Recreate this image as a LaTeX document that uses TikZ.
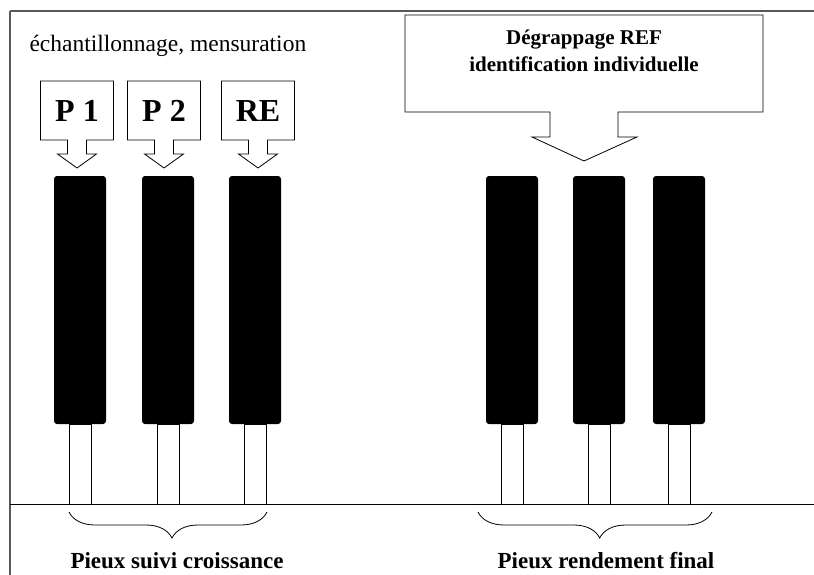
\documentclass[tikz,border=0pt]{standalone}
\usepackage{fontspec}
\setmainfont{Liberation Serif}
\usetikzlibrary{decorations.pathreplacing}

\tikzset{
  callout/.style = {draw, line width = 0.8pt, fill = white},
  pile/.style = {fill = black, rounded corners = 3pt},
  stem/.style = {draw, line width = 0.9pt, fill = white},
  bracket/.style = {draw, line width = 0.8pt, decorate,
    decoration = {brace, amplitude = 26pt, aspect = 0.48}},
  tag/.style = {font = \bfseries\fontsize{32}{36}\selectfont, anchor = base},
  caption/.style = {font = \bfseries\fontsize{23}{27}\selectfont, anchor = base}
}

\begin{document}
\begin{tikzpicture}[x = 1pt, y = -1pt]
  \useasboundingbox (0,0) rectangle (814,575);

  % frame and ground
  \draw[line width = 1.4pt, gray!70!black] (10,11) -- (814,11);
  \draw[line width = 1.2pt, gray!70!black] (10,11) -- (10,575);
  \draw[line width = 1pt] (10,504) -- (814,504);

  \node[anchor = base west, font = \fontsize{23.5}{27}\selectfont] (task) at (26,52) {échantillonnage, mensuration};

  % piles
  \foreach \cx [count = \i] in {80,168,255,512,599,679} {
    \fill[pile] (\cx-26,176) rectangle (\cx+26,424);
    \draw[stem] (\cx-11,424) rectangle (\cx+11,504);
  }

  % small callouts
  \foreach \cx/\lbl [count = \i] in {77/P 1,164/P 2,258/RE} {
    \draw[callout] (\cx-36.5,81) -- (\cx+36.5,81) -- (\cx+36.5,140) -- (\cx+9.5,140) -- (\cx+9.5,154)
      -- (\cx+19.5,154) -- (\cx,168) -- (\cx-19.5,154) -- (\cx-9.5,154) -- (\cx-9.5,140) -- (\cx-36.5,140) -- cycle;
    \node[tag] (p\i) at (\cx,122) {\lbl};
  }

  % big callout
  \draw[callout] (405,15) -- (763,15) -- (763,112) -- (618,112) -- (618,137) -- (637,137) -- (584,161)
    -- (532,137) -- (550,137) -- (550,112) -- (405,112) -- cycle;
  \node[anchor = base, font = \bfseries\fontsize{21}{27}\selectfont, align = center] (ref) at (584,72)
    {Dégrappage REF\\identification individuelle};

  % braces
  \draw[bracket] (267,512) -- (69,512);
  \draw[bracket] (712,512) -- (478,512);
  \node[caption] (suivi) at (177,568) {Pieux suivi croissance};
  \node[caption] (final) at (606,568) {Pieux rendement final};
\end{tikzpicture}
\end{document}
